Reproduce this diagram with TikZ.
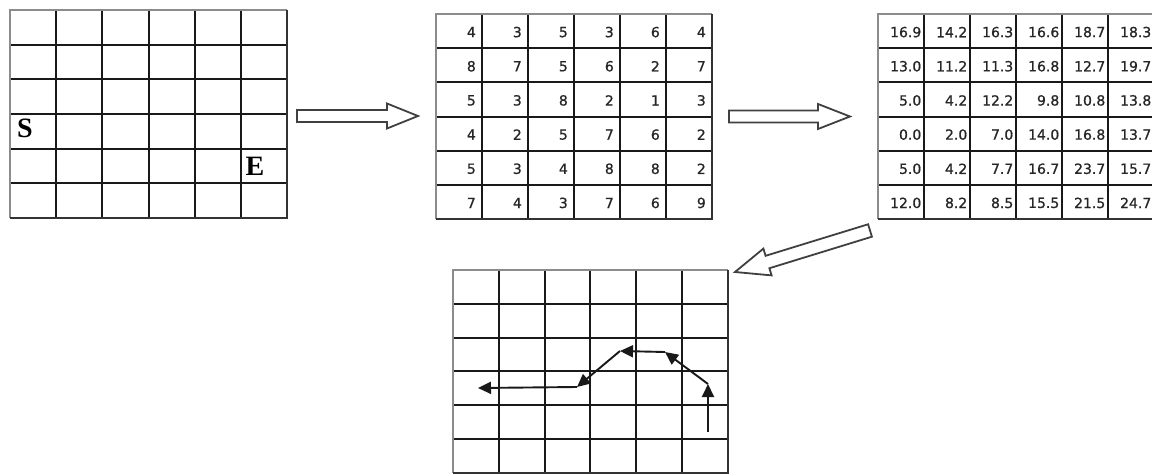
\documentclass[tikz,border=0pt]{standalone}
\usepackage{fontspec}
\setmainfont{Liberation Serif}
\newfontfamily\numfont[FakeBold=0.8]{DejaVu Sans}
\usetikzlibrary{calc,arrows.meta}

\tikzset{
  gridline/.style={line width=2pt, draw=black!90},
  gridframe/.style={line width=1.6pt, draw=black!45},
  gridframedark/.style={line width=2pt, draw=black!80},
  numlabel/.style={anchor=east, inner sep=0pt, text=black!85,
    font=\numfont\fontsize{14}{15}\selectfont},
  letter/.style={inner sep=0pt, font=\bfseries\fontsize{28}{28}\selectfont},
  blockarrow/.style={draw=black!75, line width=1.8pt, fill=white, line join=miter},
  route/.style={line width=1.9pt, draw=black!90,
    -{Triangle[length=13pt,width=12pt]}},
}

% 6x6 grid: #1 left, #2 top, #3 cell width, #4 cell height, #5 name
\newcommand\cellgrid[5]{%
  \coordinate (#5-nw) at (#1,#2);
  \coordinate (#5-se) at ({#1+6*#3},{#2+6*#4});
  \foreach \i in {1,...,5} {
    \draw[gridline] ({#1+\i*#3},#2) -- ({#1+\i*#3},{#2+6*#4});
    \draw[gridline] (#1,{#2+\i*#4}) -- ({#1+6*#3},{#2+\i*#4});
  }
  \draw[gridframe] (#5-nw |- #5-se) -- (#5-nw) -- (#5-nw -| #5-se);
  \draw[gridframedark] (#5-nw -| #5-se) -- (#5-se) -- (#5-nw |- #5-se);
}

% hollow block arrow: #1 tail, #2 tip, #3 shaft half width, #4 head half width, #5 head length
\newcommand\blockarr[5]{%
  \coordinate (#1-hb) at ($(#2)!#5!(#1)$);
  \draw[blockarrow]
    ($(#1)!#3!90:(#2)$) -- ($(#1-hb)!#3!90:(#2)$) -- ($(#1-hb)!#4!90:(#2)$)
    -- (#2) -- ($(#1-hb)!#4!-90:(#2)$) -- ($(#1-hb)!#3!-90:(#2)$)
    -- ($(#1)!#3!-90:(#2)$) -- cycle;
}

\begin{document}
\begin{tikzpicture}[x=1pt,y=-1pt]
\clip (0,0) rectangle (1152,474);
\useasboundingbox (0,0) rectangle (1152,474);
\fill[white] (0,0) rectangle (1152,474);

% start / end map
\cellgrid{10}{10}{46.17}{34.67}{ga}
\node[letter] (s) at (25,128) {S};
\node[letter] (e) at (255,166.5) {E};

% cell costs
\cellgrid{436}{14}{46}{34.17}{gb}
\foreach \row [count=\r] in {{4,3,5,3,6,4},{8,7,5,6,2,7},{5,3,8,2,1,3},
                             {4,2,5,7,6,2},{5,3,4,8,8,2},{7,4,3,7,6,9}} {
  \foreach \v [count=\c] in \row {
    \node[numlabel] (gb-\r-\c) at ({436+\c*46-6}, {14+(\r-0.5)*34.17+1}) {\v};
  }
}

% accumulated costs
\cellgrid{878}{14}{46}{34.17}{gc}
\foreach \row [count=\r] in {{16.9,14.2,16.3,16.6,18.7,18.3},
                             {13.0,11.2,11.3,16.8,12.7,19.7},
                             {5.0,4.2,12.2,9.8,10.8,13.8},
                             {0.0,2.0,7.0,14.0,16.8,13.7},
                             {5.0,4.2,7.7,16.7,23.7,15.7},
                             {12.0,8.2,8.5,15.5,21.5,24.7}} {
  \foreach \v [count=\c] in \row {
    \node[numlabel] (gc-\r-\c) at ({878+\c*46-2.5}, {14+(\r-0.5)*34.17+1}) {\v};
  }
}

% resulting path
\cellgrid{453}{270}{45.83}{33.8}{gd}
\coordinate (r0) at (708,432);
\coordinate (r1) at (708,384);
\coordinate (r2) at (665,352);
\coordinate (r3) at (620,351);
\coordinate (r4) at (577,387);
\coordinate (r5) at (478,388);
\draw[route] (r0) -- (r1);
\draw[route] (r1) -- (r2);
\draw[route] (r2) -- (r3);
\draw[route] (r3) -- (r4);
\draw[route] (r4) -- (r5);

% transitions between stages
\coordinate (a1) at (297,116);
\coordinate (a1t) at (418,116);
\coordinate (a2) at (729,116.5);
\coordinate (a2t) at (850,116.5);
\coordinate (a3) at (870,230.5);
\coordinate (a3t) at (735,272);
\blockarr{a1}{a1t}{6pt}{12.5pt}{31pt}
\blockarr{a2}{a2t}{6pt}{12.5pt}{32pt}
\blockarr{a3}{a3t}{6.5pt}{14pt}{34pt}
\end{tikzpicture}
\end{document}
